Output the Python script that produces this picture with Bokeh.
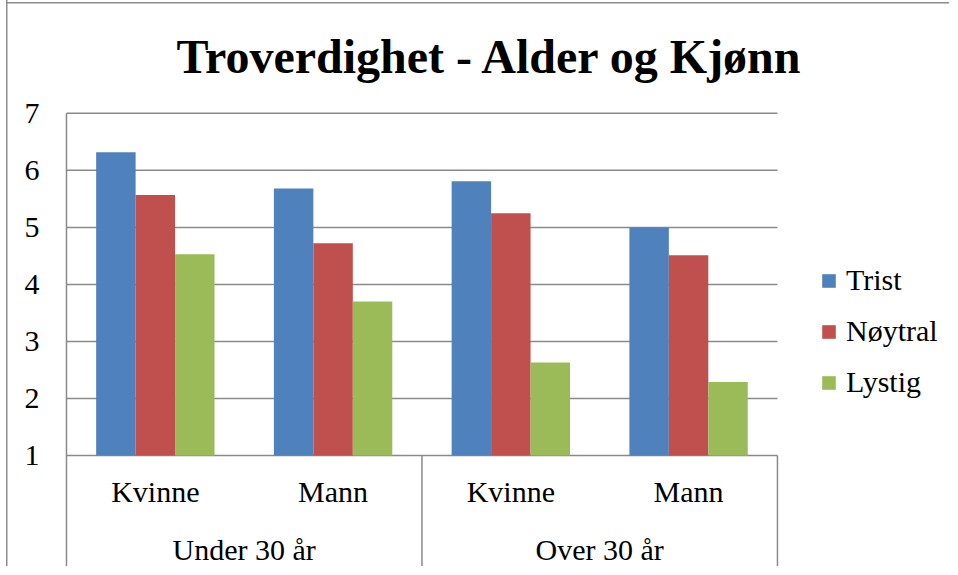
from bokeh.plotting import figure
from bokeh.models import ColumnDataSource, Range1d, FixedTicker, Legend, LegendItem, Title
from bokeh.transform import dodge
from bokeh.core.properties import value
from bokeh.embed import file_html
from bokeh.resources import INLINE

# ---- data ----
groups = ["Under 30 år", "Over 30 år"]
subcats = ["Kvinne", "Mann", "Kvinne", "Mann"]
series = ["Trist", "Nøytral", "Lystig"]
trist = [6.32, 5.68, 5.81, 5.00]
noytral = [5.57, 4.72, 5.25, 4.51]
lystig = [4.53, 3.70, 2.63, 2.29]
colors = ["#4F81BD", "#C0504D", "#9BBB59"]
y_ticks = [1, 2, 3, 4, 5, 6, 7]

FONT = "Liberation Serif"
GRID = "#8a8a8a"
FS = "30px"

xpos = [i + 0.5 for i in range(len(subcats))]
src = ColumnDataSource(dict(x=xpos, Trist=trist, Noytral=noytral, Lystig=lystig))

p = figure(width=949, height=566, output_backend="svg", toolbar_location=None,
           x_axis_type=None,
           x_range=Range1d(-0.028, 4.968), y_range=Range1d(-0.947, 7.05),
           min_border_left=61, min_border_right=0, min_border_top=110, min_border_bottom=0)
p.outline_line_color = None
p.xgrid.visible = False
p.ygrid.visible = False
p.border_fill_color = None
p.background_fill_color = "white"
p.styles = {"background": ("linear-gradient(#8c8c8c,#8c8c8c) 6px 0px / 1.5px 100% no-repeat, "
                           "linear-gradient(#8c8c8c,#8c8c8c) 6px 2px / 100% 1.5px no-repeat, white")}

# title
t = Title(text="Troverdighet - Alder og Kjønn", text_font=FONT, text_font_size="48px",
          text_font_style="bold", text_color="black", align="left", offset=115, standoff=55)
p.add_layout(t, "above")

# gridlines (2..7) and axis line at 1
n = len(subcats)
p.segment(x0=[0] * len(y_ticks), x1=[n] * len(y_ticks), y0=y_ticks, y1=y_ticks,
          line_color=GRID, line_width=1.5)
# vertical axis line and category separators
p.segment(x0=[0], x1=[0], y0=[-0.947], y1=[7], line_color=GRID, line_width=1.5)
p.segment(x0=[2, n], x1=[2, n], y0=[-0.947, -0.947], y1=[1, 1], line_color=GRID, line_width=1.5)

# bars
w = 0.222
offs = [-w, 0, w]
keys = ["Trist", "Noytral", "Lystig"]
renderers = []
for k, off, c in zip(keys, offs, colors):
    r = p.vbar(x=dodge("x", off, range=p.x_range), top=k, bottom=1, width=w, source=src,
               fill_color=c, line_color=None)
    renderers.append(r)

# category labels
p.text(x=xpos, y=[0.37] * n, text=subcats, text_font=value(FONT), text_font_size=FS,
       text_align="center", text_baseline="middle", text_color="black")
p.text(x=[1, 3], y=[-0.65, -0.65], text=groups, text_font=value(FONT), text_font_size=FS,
       text_align="center", text_baseline="middle", text_color="black")

# y axis
p.yaxis.ticker = FixedTicker(ticks=y_ticks)
p.yaxis.axis_line_color = None
p.yaxis.major_tick_line_color = None
p.yaxis.minor_tick_line_color = None
p.yaxis.major_tick_out = 0
p.yaxis.major_label_standoff = 22
p.yaxis.major_label_text_font = FONT
p.yaxis.major_label_text_font_size = FS
p.yaxis.major_label_text_color = "black"

legend = Legend(items=[LegendItem(label=s, renderers=[r]) for s, r in zip(series, renderers)],
                location=(759, 167), margin=0, padding=0, spacing=17,
                glyph_width=17, glyph_height=17, label_standoff=9, label_height=30,
                label_text_font=FONT, label_text_font_size=FS, label_text_color="black",
                border_line_color=None, background_fill_alpha=0)
p.add_layout(legend)

open("out.html", "w").write(file_html(p, INLINE))
